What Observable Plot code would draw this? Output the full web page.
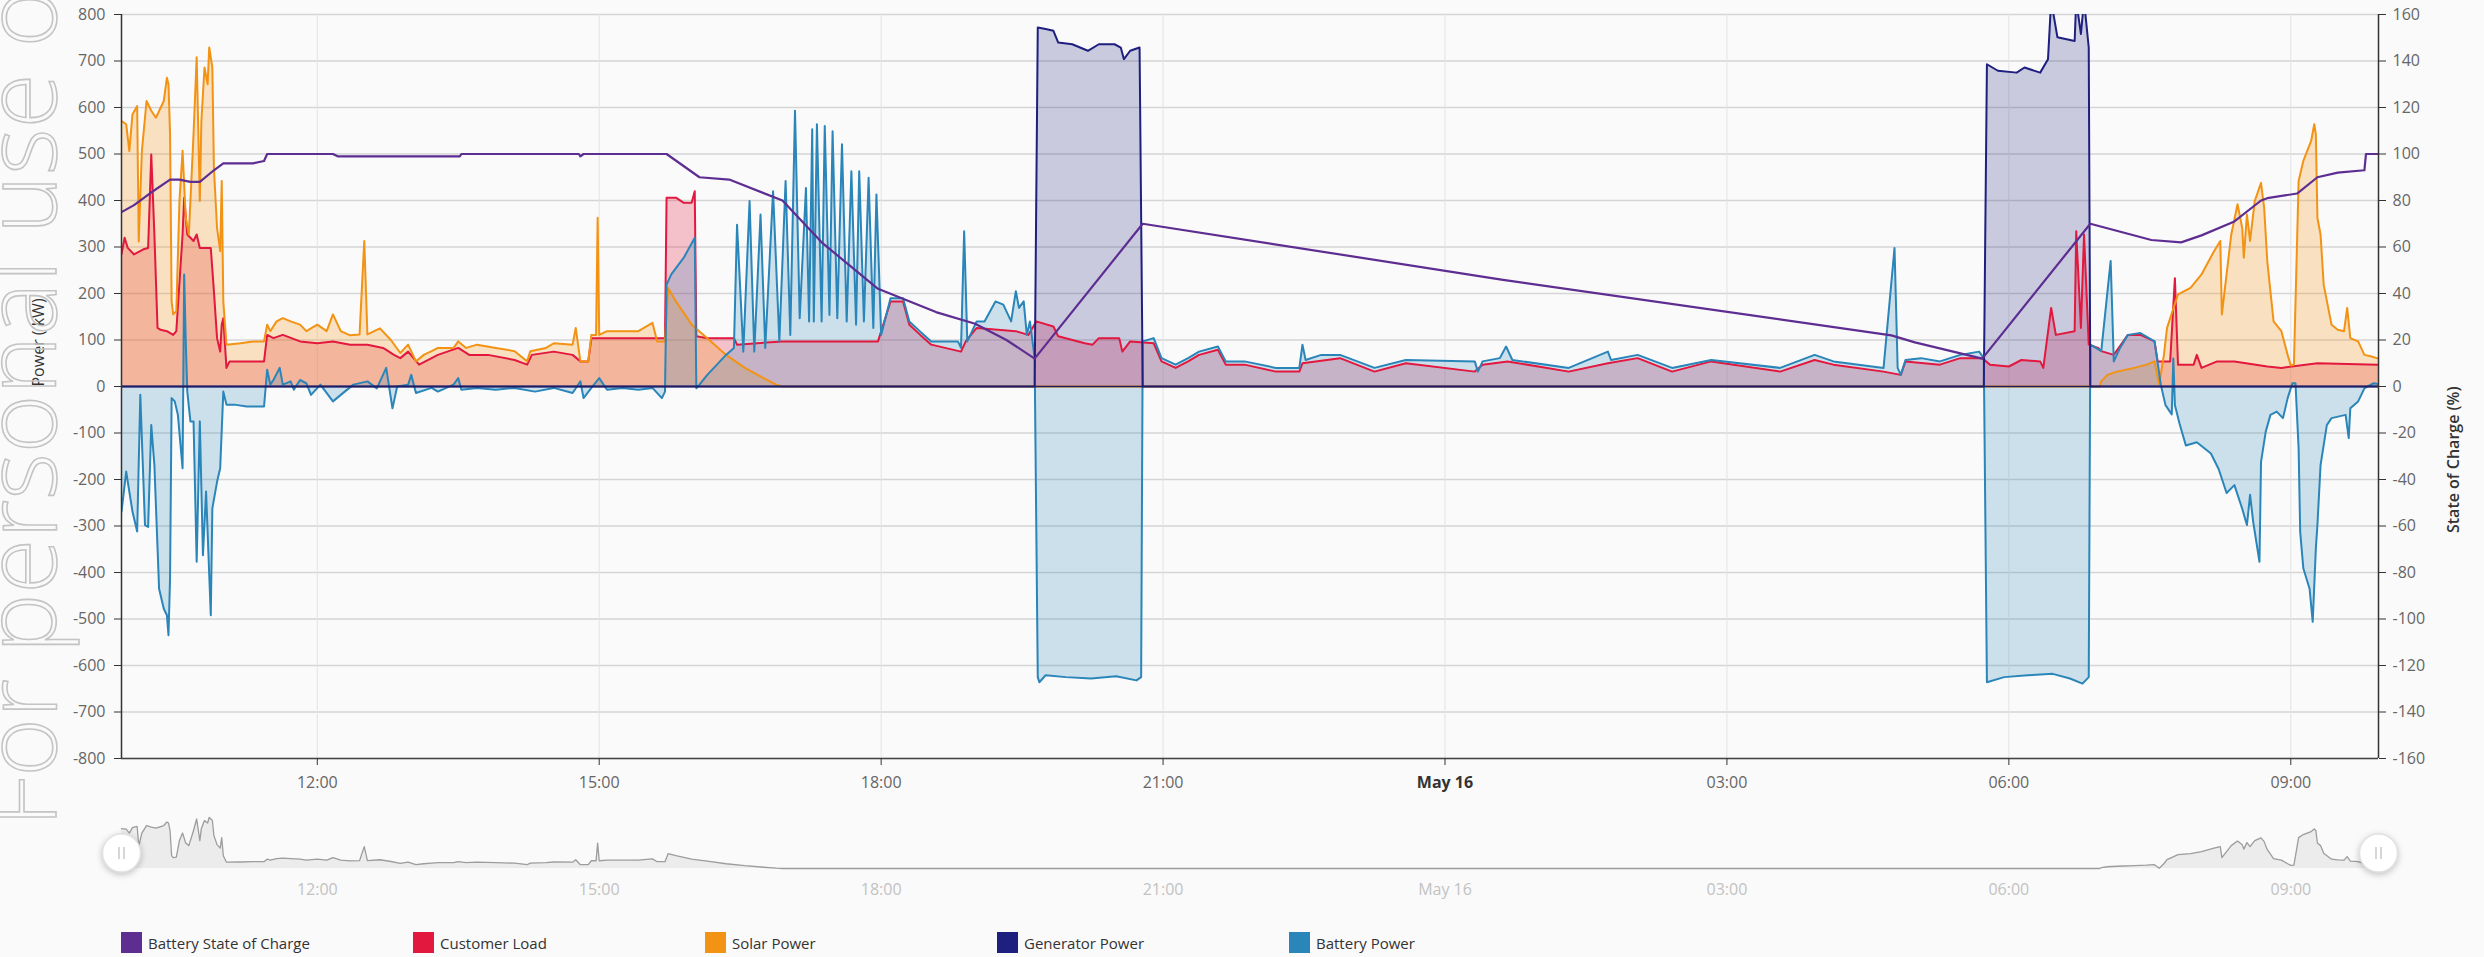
<!DOCTYPE html>
<html><head><meta charset="utf-8">
<script src="https://cdn.jsdelivr.net/npm/d3@7"></script>
<script src="https://cdn.jsdelivr.net/npm/@observablehq/plot@0.6"></script>
<style>
html,body{margin:0;padding:0;background:#fafafa;}
#wrap{position:relative;width:2484px;height:957px;overflow:hidden;font-family:"Open Sans",sans-serif;background:#fafafa;}
#wrap svg{display:block;}
#legend{position:absolute;left:121px;top:932px;display:flex;}
.item{width:292px;display:flex;align-items:center;height:21px;font-size:15px;color:#333;white-space:nowrap;}
.sw{width:21px;height:21px;margin-right:6px;flex:none;}
#wm{position:absolute;left:0;top:0;pointer-events:none;}
</style></head><body><div id="wrap"></div>
<script>
// ---------- categories, colours, ticks ----------
const categories = ["Battery State of Charge", "Customer Load", "Solar Power", "Generator Power", "Battery Power"];
const colors = ["#5d2d91", "#e2183f", "#f39314", "#1f1f80", "#2a85b9"];
// time = minutes since 00:00 on May 15
const xDomain = [595, 2036];
const xTicks = [720, 900, 1080, 1260, 1440, 1620, 1800, 1980];
const xTickLabels = ["12:00", "15:00", "18:00", "21:00", "May 16", "03:00", "06:00", "09:00"];
const powerTicks = [-800, -700, -600, -500, -400, -300, -200, -100, 0, 100, 200, 300, 400, 500, 600, 700, 800];
const socTicks = [-160, -140, -120, -100, -80, -60, -40, -20, 0, 20, 40, 60, 80, 100, 120, 140, 160];
const socToPower = 800 / 160;

// ---------- series: [minute, value] ----------
const socPct = [[595,75],[603,78],[613,83],[626,89],[632,89],[639,88],[645,88],[654,93],[660,96],[679,96],[686,97],[688,100],[730,100],[733,99],[811,99],[812,100],[887,100],[888,99],[890,100],[943,100],[964,90],[983,89],[1017,80],[1042,62],[1078,42],[1115,32],[1140,27],[1160,20],[1178,12],[1247,70],[1476,46],[1725,22],[1740,19],[1783,12],[1852,70],[1891,63],[1910,62],[1923,65],[1944,71],[1961,80],[1965,81],[1984,83],[1997,90],[2010,92],[2027,93],[2028,100],[2036,100]];

const loadKW = [[595,284],[597,320],[599,298],[603,284],[609,295],[612,298],[614,499],[616,327],[618,126],[620,122],[624,119],[628,111],[630,119],[634,327],[635,406],[637,327],[641,313],[643,327],[645,298],[652,298],[654,205],[656,104],[658,75],[659,133],[660,147],[662,40],[664,54],[686,54],[688,111],[692,104],[698,111],[709,97],[720,93],[730,97],[741,90],[752,90],[762,83],[769,68],[773,61],[778,75],[785,47],[793,61],[797,68],[810,83],[817,68],[829,68],[846,57],[854,47],[857,68],[871,75],[883,68],[888,54],[893,54],[895,104],[942,104],[943,406],[949,406],[954,395],[959,395],[961,420],[962,108],[969,104],[986,104],[988,90],[1017,97],[1078,97],[1086,183],[1094,183],[1098,133],[1105,111],[1112,90],[1131,75],[1134,97],[1141,126],[1166,119],[1174,111],[1179,140],[1190,129],[1193,108],[1210,93],[1215,90],[1219,104],[1232,104],[1234,75],[1239,97],[1254,93],[1259,54],[1268,40],[1276,54],[1283,68],[1295,79],[1300,47],[1312,47],[1332,32],[1347,32],[1349,50],[1373,61],[1395,32],[1415,50],[1459,32],[1464,47],[1480,54],[1519,32],[1544,50],[1563,61],[1585,32],[1610,54],[1654,32],[1676,57],[1688,47],[1720,32],[1731,25],[1734,54],[1756,47],[1769,61],[1783,61],[1788,47],[1800,43],[1808,57],[1820,54],[1822,40],[1827,169],[1830,111],[1842,119],[1843,334],[1846,126],[1848,327],[1851,90],[1857,83],[1859,76],[1867,68],[1876,111],[1884,111],[1893,97],[1895,54],[1903,54],[1906,233],[1908,47],[1918,47],[1920,68],[1923,40],[1933,54],[1944,54],[1965,43],[1974,40],[1997,50],[2036,47]];

const solarKW = [[595,571],[598,564],[600,506],[602,585],[605,603],[606,312],[608,506],[611,614],[614,593],[617,578],[622,614],[624,664],[625,650],[626,543],[627,183],[628,155],[630,162],[632,399],[634,507],[636,363],[638,327],[641,543],[643,708],[645,399],[646,571],[648,686],[650,650],[651,729],[653,686],[654,470],[656,341],[658,291],[659,442],[660,183],[662,90],[671,93],[679,97],[686,97],[688,133],[690,119],[694,140],[698,147],[703,140],[709,133],[713,119],[720,133],[726,119],[730,155],[735,119],[741,110],[747,112],[750,313],[752,112],[760,125],[767,100],[773,72],[778,90],[783,54],[788,68],[793,76],[797,83],[807,83],[810,97],[815,83],[822,90],[834,83],[846,76],[854,54],[856,76],[866,83],[871,93],[883,90],[885,126],[888,54],[893,54],[895,111],[898,111],[899,363],[900,111],[905,119],[915,119],[925,119],[934,137],[937,97],[942,97],[944,212],[949,183],[959,133],[969,104],[981,68],[993,40],[1005,18],[1013,4],[1017,0],[1858,0],[1859,11],[1863,25],[1869,32],[1880,40],[1888,47],[1893,54],[1896,4],[1899,68],[1901,126],[1908,198],[1916,212],[1923,241],[1931,291],[1935,313],[1936,155],[1939,241],[1942,327],[1946,392],[1949,341],[1950,277],[1952,370],[1954,313],[1957,399],[1961,438],[1963,384],[1965,269],[1969,140],[1974,119],[1978,68],[1980,45],[1982,47],[1985,442],[1988,485],[1993,528],[1995,564],[1996,542],[1997,363],[1999,327],[2001,219],[2006,133],[2010,122],[2014,119],[2016,169],[2018,104],[2023,97],[2027,68],[2031,65],[2036,60]];

const generatorKW = [[595,0],[1178,0],[1180,772],[1185,769],[1190,765],[1193,740],[1202,736],[1212,722],[1219,736],[1229,736],[1233,729],[1235,704],[1239,722],[1245,729],[1247,0],[1784,0],[1786,693],[1793,679],[1805,675],[1810,686],[1820,675],[1825,704],[1827,830],[1831,751],[1842,743],[1843,830],[1846,758],[1848,830],[1851,729],[1852,0],[2036,0]];

const batteryKW = [[595,-269],[598,-183],[600,-226],[602,-269],[605,-312],[607,-18],[609,-205],[610,-298],[612,-302],[614,-83],[616,-169],[619,-435],[622,-478],[624,-492],[625,-535],[626,-413],[627,-25],[629,-32],[631,-61],[634,-176],[635,241],[636,100],[637,-11],[639,-75],[641,-75],[643,-377],[645,-75],[647,-363],[649,-226],[652,-492],[653,-262],[656,-205],[658,-176],[660,-11],[662,-39],[667,-39],[675,-43],[686,-43],[688,36],[690,4],[692,14],[696,40],[698,4],[703,11],[705,-7],[709,14],[713,7],[716,-18],[722,4],[730,-32],[735,-18],[743,4],[752,11],[758,-4],[764,40],[768,-47],[771,0],[778,4],[780,25],[783,-14],[793,-3],[797,-11],[807,4],[810,18],[812,-7],[822,-3],[834,-7],[846,-3],[859,-11],[871,-3],[883,-14],[888,11],[890,-25],[895,-3],[900,18],[905,-7],[915,-3],[925,-7],[934,-3],[940,-25],[942,-11],[943,219],[946,241],[954,277],[961,320],[962,-4],[964,4],[969,25],[981,68],[986,83],[988,348],[992,75],[996,399],[999,75],[1003,370],[1006,83],[1011,420],[1015,97],[1019,442],[1022,111],[1025,593],[1028,147],[1032,427],[1034,140],[1036,553],[1037,140],[1039,564],[1042,140],[1044,560],[1047,154],[1049,549],[1052,147],[1055,521],[1058,140],[1061,463],[1064,133],[1066,463],[1069,140],[1072,449],[1075,126],[1077,413],[1080,111],[1086,190],[1094,190],[1098,140],[1105,118],[1112,97],[1129,97],[1131,83],[1133,334],[1135,97],[1141,140],[1146,140],[1153,183],[1158,176],[1163,140],[1166,205],[1168,169],[1171,183],[1173,111],[1175,140],[1178,61],[1180,-625],[1181,-636],[1185,-621],[1198,-625],[1214,-628],[1230,-623],[1243,-632],[1246,-625],[1247,97],[1254,104],[1259,61],[1268,47],[1276,61],[1283,75],[1295,86],[1300,54],[1312,54],[1332,40],[1347,40],[1349,90],[1351,57],[1361,68],[1373,68],[1395,40],[1415,57],[1459,54],[1461,32],[1464,54],[1475,61],[1479,86],[1483,57],[1519,40],[1544,75],[1546,57],[1563,68],[1585,40],[1610,57],[1654,40],[1676,68],[1688,54],[1720,40],[1727,298],[1729,40],[1731,25],[1734,57],[1744,61],[1756,54],[1769,68],[1781,75],[1784,61],[1786,-636],[1797,-625],[1812,-621],[1828,-618],[1839,-628],[1847,-639],[1851,-625],[1852,90],[1859,76],[1865,270],[1867,54],[1871,83],[1876,111],[1884,115],[1893,97],[1897,4],[1900,-40],[1904,-60],[1905,60],[1906,-40],[1909,-80],[1913,-127],[1920,-120],[1929,-144],[1934,-178],[1939,-229],[1944,-212],[1949,-263],[1952,-298],[1954,-233],[1956,-291],[1960,-377],[1961,-162],[1964,-97],[1967,-61],[1971,-54],[1975,-68],[1978,-25],[1981,7],[1983,7],[1985,-133],[1986,-312],[1988,-391],[1992,-435],[1994,-506],[1996,-348],[1997,-298],[1999,-169],[2003,-83],[2006,-68],[2015,-61],[2017,-111],[2018,-47],[2023,-32],[2027,-4],[2029,0],[2033,7],[2036,5]];

// ---------- build ----------
const tickLabel = new Map(xTicks.map((t, i) => [t, xTickLabels[i]]));
const X = d => d[0], Y = d => d[1];
const socLine = socPct.map(d => [d[0], d[1] * socToPower]);
const FILL_OP = 0.25;

const main = Plot.plot({
  width: 2484, height: 800,
  marginLeft: 121, marginRight: 106, marginTop: 14, marginBottom: 42,
  style: {background: "#fafafa", fontFamily: "Open Sans", fontSize: "16px", color: "#333"},
  x: {domain: xDomain, axis: null},
  y: {domain: [-800, 800], axis: null},
  marks: [
    Plot.ruleY(powerTicks, {stroke: "#d5d5d5", strokeWidth: 1.5}),
    Plot.ruleX(xTicks, {stroke: "#e3e3e3", strokeWidth: 1}),
    Plot.areaY(loadKW, {x: X, y: Y, fill: colors[1], fillOpacity: FILL_OP, clip: true}),
    Plot.areaY(solarKW, {x: X, y: Y, fill: colors[2], fillOpacity: FILL_OP, clip: true}),
    Plot.areaY(generatorKW, {x: X, y: Y, fill: colors[3], fillOpacity: 0.22, clip: true}),
    Plot.areaY(batteryKW, {x: X, y: Y, fill: colors[4], fillOpacity: 0.22, clip: true}),
    Plot.lineY(loadKW, {x: X, y: Y, stroke: colors[1], strokeWidth: 2, clip: true}),
    Plot.lineY(solarKW, {x: X, y: Y, stroke: colors[2], strokeWidth: 2, clip: true}),
    Plot.lineY(batteryKW, {x: X, y: Y, stroke: colors[4], strokeWidth: 2, clip: true}),
    Plot.lineY(generatorKW, {x: X, y: Y, stroke: colors[3], strokeWidth: 2, clip: true}),
    Plot.lineY(socLine, {x: X, y: Y, stroke: colors[0], strokeWidth: 2.2, clip: true}),
    Plot.ruleY([0], {stroke: "#1f1f60", strokeWidth: 1.5}),
    Plot.ruleY([-800], {stroke: "#444", strokeWidth: 1.5}),
    Plot.ruleX(xDomain, {stroke: "#333", strokeWidth: 1.5}),
    Plot.axisX(xTicks, {anchor: "bottom", tickFormat: d => tickLabel.get(d), tickSize: 7, tickPadding: 11, stroke: "#333", fill: "#666", label: null}),
    Plot.axisY(powerTicks, {anchor: "left", tickFormat: d => String(d), tickSize: 7, tickPadding: 9, stroke: "#333", fill: "#666", label: null}),
    Plot.axisY(socTicks.map(v => v * socToPower), {anchor: "right", tickFormat: d => String(d / socToPower), tickSize: 7, tickPadding: 7, stroke: "#333", fill: "#666", label: null}),
    Plot.text(["Power ( kW)"], {frameAnchor: "left", dx: -83, rotate: -90, fill: "#333", fontSize: 16}),
    Plot.text(["State of Charge (%)"], {frameAnchor: "right", dx: 75, rotate: -90, fill: "#333", fontSize: 16, fontWeight: 600})
  ]
});

const nav = Plot.plot({
  width: 2484, height: 110,
  marginLeft: 121, marginRight: 106, marginTop: 17, marginBottom: 42,
  style: {background: "#fafafa", fontFamily: "Open Sans", fontSize: "16px"},
  x: {domain: xDomain, axis: null},
  y: {domain: [0, 729], axis: null},
  marks: [
    Plot.areaY(solarKW, {x: X, y: Y, fill: "#ececec"}),
    Plot.lineY(solarKW, {x: X, y: Y, stroke: "#9d9d9d", strokeWidth: 1.3}),
    Plot.axisX(xTicks, {anchor: "bottom", tickFormat: d => tickLabel.get(d), tickSize: 0, tickPadding: 15, fill: "#c2c2c2", label: null}),
    Plot.dot([0], {frameAnchor: "left", r: 19, fill: "#ffffff", stroke: "#e2e2e2", dy: 10}),
    Plot.dot([0], {frameAnchor: "right", r: 19, fill: "#ffffff", stroke: "#e2e2e2", dy: 10})
  ]
});

const wrap = document.getElementById("wrap");
wrap.appendChild(main);
wrap.appendChild(nav);

d3.select(main).selectAll("text").filter(function () { return this.textContent === "May 16"; })
  .attr("font-weight", "bold").attr("fill", "#333");

d3.select(nav).selectAll("circle").each(function () {
  const c = d3.select(this);
  c.style("filter", "drop-shadow(0px 2px 3px rgba(0,0,0,0.22))");
  const bb = this.getBBox();
  const cx = bb.x + bb.width / 2, cy = bb.y + bb.height / 2;
  const g = d3.select(this.parentNode);
  [-2.5, 2.5].forEach(o => g.append("line").attr("x1", cx + o).attr("x2", cx + o)
    .attr("y1", cy - 6).attr("y2", cy + 6).attr("stroke", "#c8c8c8").attr("stroke-width", 1.5));
});

// legend
const legend = document.createElement("div");
legend.id = "legend";
categories.forEach((c, i) => {
  const it = document.createElement("div"); it.className = "item";
  const sw = document.createElement("span"); sw.className = "sw"; sw.style.background = colors[i];
  const tx = document.createElement("span"); tx.textContent = c;
  it.appendChild(sw); it.appendChild(tx); legend.appendChild(it);
});
wrap.appendChild(legend);

// watermark
const ns = "http://www.w3.org/2000/svg";
const wm = document.createElementNS(ns, "svg");
wm.setAttribute("id", "wm"); wm.setAttribute("width", 2484); wm.setAttribute("height", 957);
const wt = document.createElementNS(ns, "text");
wt.setAttribute("transform", "translate(56,827) rotate(-90)");
wt.setAttribute("font-family", "Open Sans"); wt.setAttribute("font-weight", "300");
wt.setAttribute("font-size", "100"); wt.setAttribute("fill", "none");
wt.setAttribute("stroke", "#c4c4c4"); wt.setAttribute("stroke-width", "1.6");
wt.textContent = "For personal use only";
wm.appendChild(wt);
wrap.appendChild(wm);
</script></body></html>
